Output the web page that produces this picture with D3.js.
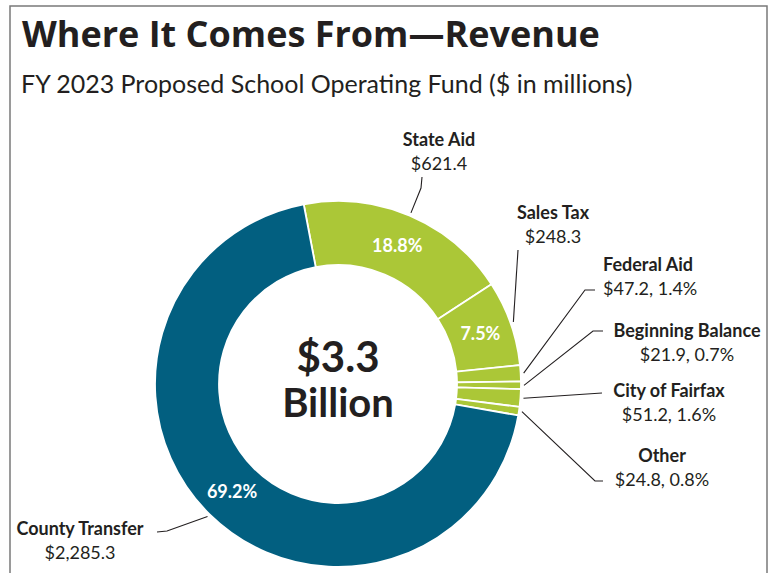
<!DOCTYPE html>
<html>
<head>
<meta charset="utf-8">
<script src="https://cdn.jsdelivr.net/npm/d3@7"></script>
<style>
  body { margin: 0; background: #fff; }
  svg { display: block; }
  text { font-family: Lato, "Open Sans", sans-serif; fill: #231f20; }
</style>
</head>
<body>
<div id="chart"></div>
<script>
// revenue sources, FY 2023 proposed ($ in millions)
var categories = ['State Aid', 'Sales Tax', 'Federal Aid', 'Beginning Balance', 'City of Fairfax', 'Other', 'County Transfer'];
var amounts = [621.4, 248.3, 47.2, 21.9, 51.2, 24.8, 2285.3];
var amountLabels = ['$621.4', '$248.3', '$47.2', '$21.9', '$51.2', '$24.8', '$2,285.3'];
var percentLabels = ['18.8%', '7.5%', '1.4%', '0.7%', '1.6%', '0.8%', '69.2%'];
var totalLabel = ['$3.3', 'Billion'];

var width = 782;
var height = 573;
var cx = 338, cy = 384;
var outerR = 183, innerR = 119;

var green = '#abc737';
var blue = '#025f80';
var colors = [green, green, green, green, green, green, blue];

// where each outside label sits (hand placed, like the original)
var labelLayout = [
    { tx: 439, ty: 146, anchor: 'middle', knees: [[421, 188], [422, 177]], inside: true },
    { tx: 553, ty: 219, anchor: 'middle', knees: [[518, 250]], inside: true },
    { tx: 603, ty: 271, anchor: 'start', knees: [[585, 290], [595, 290]], withPct: true },
    { tx: 687, ty: 337, anchor: 'middle', knees: [[593, 331], [603, 331]], withPct: true },
    { tx: 669, ty: 397, anchor: 'middle', knees: [[602, 393]], withPct: true },
    { tx: 662, ty: 462, anchor: 'middle', knees: [[595, 481], [603, 481]], withPct: true },
    { tx: 80, ty: 535, anchor: 'middle', knees: [[167, 531], [157, 532]], inside: true }
];

var svg = d3.select('#chart').append('svg')
    .attr('width', width)
    .attr('height', height);

// frame
svg.append('path')
    .attr('d', 'M10,' + height + 'V6H767V' + height)
    .attr('fill', 'none')
    .attr('stroke', '#7a7a7a')
    .attr('stroke-width', 1.5);

svg.append('text')
    .attr('x', 22)
    .attr('y', 47)
    .style('font-family', '"Open Sans", Lato, sans-serif')
    .style('font-size', '36px')
    .style('font-weight', 700)
    .text('Where It Comes From\u2014Revenue');

svg.append('text')
    .attr('x', 21)
    .attr('y', 93)
    .style('font-size', '25px')
    .style('font-weight', 400)
    .text('FY 2023 Proposed School Operating Fund ($ in millions)');

var startA = -10.8 * Math.PI / 180;
var pie = d3.pie()
    .sort(null)
    .startAngle(startA)
    .endAngle(startA + 2 * Math.PI);

var arcs = pie(amounts);

var arc = d3.arc()
    .innerRadius(innerR)
    .outerRadius(outerR);

var g = svg.append('g')
    .attr('transform', 'translate(' + cx + ',' + cy + ')');

g.selectAll('path.slice')
    .data(arcs)
    .enter()
    .append('path')
    .attr('class', 'slice')
    .attr('d', arc)
    .attr('fill', function(d, i) { return colors[i]; })
    .attr('stroke', '#fff')
    .attr('stroke-width', 1.8);

// percent inside the big slices
g.selectAll('text.pct')
    .data(arcs.filter(function(d, i) { return labelLayout[i].inside; }))
    .enter()
    .append('text')
    .attr('class', 'pct')
    .attr('transform', function(d) { return 'translate(' + arc.centroid(d) + ')'; })
    .attr('text-anchor', 'middle')
    .attr('dy', '0.36em')
    .style('font-size', '18px')
    .style('font-weight', 700)
    .style('fill', '#fff')
    .text(function(d) { return percentLabels[d.index]; });

// leader lines
var line = d3.line();
svg.selectAll('path.leader')
    .data(arcs)
    .enter()
    .append('path')
    .attr('class', 'leader')
    .attr('d', function(d, i) {
        var a = (d.startAngle + d.endAngle) / 2;
        var r = outerR + 3;
        var p0 = [cx + r * Math.sin(a), cy - r * Math.cos(a)];
        return line([p0].concat(labelLayout[i].knees));
    })
    .attr('fill', 'none')
    .attr('stroke', '#231f20')
    .attr('stroke-width', 1.1);

var labels = svg.selectAll('g.label')
    .data(categories)
    .enter()
    .append('g')
    .attr('class', 'label');

labels.append('text')
    .attr('x', function(d, i) { return labelLayout[i].tx; })
    .attr('y', function(d, i) { return labelLayout[i].ty; })
    .attr('text-anchor', function(d, i) { return labelLayout[i].anchor; })
    .style('font-size', '18px')
    .style('font-weight', 700)
    .text(function(d) { return d; });

labels.append('text')
    .attr('x', function(d, i) { return labelLayout[i].tx; })
    .attr('y', function(d, i) { return labelLayout[i].ty + 24; })
    .attr('text-anchor', function(d, i) { return labelLayout[i].anchor; })
    .style('font-size', '18px')
    .text(function(d, i) {
        return labelLayout[i].withPct ? amountLabels[i] + ', ' + percentLabels[i] : amountLabels[i];
    });

// total in the hole
g.append('text')
    .attr('text-anchor', 'middle')
    .attr('y', -12)
    .style('font-size', '42px')
    .style('font-weight', 700)
    .text(totalLabel[0]);

g.append('text')
    .attr('text-anchor', 'middle')
    .attr('y', 33)
    .style('font-size', '40px')
    .style('font-weight', 700)
    .text(totalLabel[1]);
</script>
</body>
</html>
